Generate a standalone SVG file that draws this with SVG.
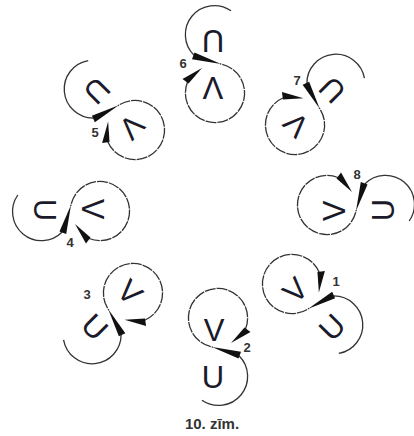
<svg xmlns="http://www.w3.org/2000/svg" width="414" height="436" viewBox="0 0 414 436">
<style>
.c{fill:none;stroke:#333;stroke-width:1.3;stroke-dasharray:11 1}
.l{fill:none;stroke:#333;stroke-width:1.3}
.w{fill:#111}
.g{font-family:"Liberation Sans",Arial,sans-serif;font-size:31px;fill:#1a1a2a;text-anchor:middle}
.n{font-family:"Liberation Sans",Arial,sans-serif;font-size:13px;font-weight:bold;fill:#333;text-anchor:middle}
.cap{font-family:"Liberation Sans",Arial,sans-serif;font-size:15px;font-weight:bold;fill:#333;text-anchor:middle}
</style>
<defs>
<g id="m">
<path class="c" d="M27.5 11A29.6 29.6 0 1 0-5 29.2"/>
<path class="l" d="M21 37.8A29 29 0 0 1-16 82.2"/>
<polygon class="w" points="-6,29 23,33.8 20.5,40.5"/>
<polygon class="w" points="13,25 26.5,9.5 32.5,14"/>
</g>
</defs>
<g id="connectors">
<use href="#m" transform="translate(292,284) rotate(-45)"/>
<use href="#m" transform="translate(218,318)"/>
<use href="#m" transform="translate(133,293) rotate(45)"/>
<use href="#m" transform="translate(100,211) rotate(90)"/>
<use href="#m" transform="translate(135,130) rotate(135)"/>
<use href="#m" transform="translate(215,93) rotate(180)"/>
<use href="#m" transform="translate(295,125) rotate(-135)"/>
<use href="#m" transform="translate(327,205) rotate(-90)"/>
</g>
<g id="n1"><text class="g" transform="translate(295,290) rotate(-45)" y="11">V</text><text class="g" transform="translate(332,327) rotate(-45)" y="11">U</text><text class="n" x="336" y="286">1</text></g>
<g id="n2"><text class="g" transform="translate(214,330)" y="11">V</text><text class="g" transform="translate(213,377)" y="11">U</text><text class="n" x="247" y="352">2</text></g>
<g id="n3"><text class="g" transform="translate(130,292) rotate(45)" y="11">V</text><text class="g" transform="translate(95,327) rotate(45)" y="11">U</text><text class="n" x="87" y="299">3</text></g>
<g id="n4"><text class="g" transform="translate(93,209) rotate(90)" y="11">V</text><text class="g" transform="translate(45,210) rotate(90)" y="11">U</text><text class="n" x="70" y="247">4</text></g>
<g id="n5"><text class="g" transform="translate(132,127) rotate(135)" y="11">V</text><text class="g" transform="translate(97,91) rotate(135)" y="11">U</text><text class="n" x="95" y="137">5</text></g>
<g id="n6"><text class="g" transform="translate(213,88) rotate(180)" y="11">V</text><text class="g" transform="translate(213,41) rotate(180)" y="11">U</text><text class="n" x="183" y="68">6</text></g>
<g id="n7"><text class="g" transform="translate(296,125) rotate(-135)" y="11">V</text><text class="g" transform="translate(332,90) rotate(-135)" y="11">U</text><text class="n" x="297" y="85">7</text></g>
<g id="n8"><text class="g" transform="translate(334,211) rotate(-90)" y="11">V</text><text class="g" transform="translate(383,210) rotate(-90)" y="11">U</text><text class="n" x="357" y="179">8</text></g>
<text class="cap" x="212" y="429">10. zīm.</text>
</svg>
